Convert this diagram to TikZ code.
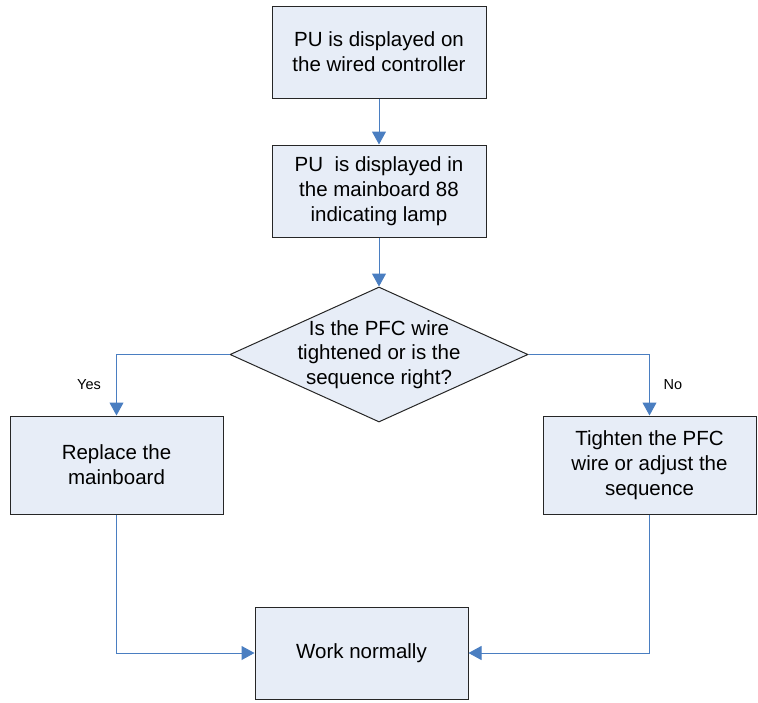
\documentclass[tikz,border=0pt]{standalone}
\usepackage{fontspec}
\setmainfont{Liberation Sans}
\usetikzlibrary{shapes.geometric,arrows.meta,positioning}

\definecolor{boxfill}{RGB}{231,237,247}
\definecolor{flowblue}{RGB}{74,126,193}

\begin{document}
\begin{tikzpicture}[x=1pt,y=-1pt,
    box/.style={draw=black!85,line width=1pt,fill=boxfill,minimum width=214pt,minimum height=92pt,
        inner sep=0pt,align=center,font=\fontsize{20.5}{25}\selectfont},
    decision/.style={draw=black!85,line width=1pt,fill=boxfill,diamond,minimum width=298pt,
        minimum height=135pt,inner sep=0pt},
    flow/.style={draw=flowblue,line width=1pt,-{Triangle[width=14pt,length=13pt]}},
    lbl/.style={font=\fontsize{14.5}{17}\selectfont}]
    \useasboundingbox (0,0) rectangle (758,702);

    % Steps
    \node[box] (wired) at (379,52) {PU is displayed on\\the wired controller};
    \node[box] (lamp) at (379,191) {PU\ \ is displayed in\\the mainboard 88\\indicating lamp};
    \node[decision,label={[align=center,font=\fontsize{20.5}{24.5}\selectfont]center:Is the PFC wire\\tightened or is the\\sequence right?}] (pfc) at (379,354.5) {};
    \node[box,minimum width=213pt,minimum height=98pt] (replace) at (116.5,465) {Replace the\\mainboard};
    \node[box,minimum width=213pt,minimum height=98pt] (tighten) at (649.5,465) {Tighten the PFC\\wire or adjust the\\sequence};
    \node[box,minimum width=213pt] (normal) at (361.5,653) {Work normally};

    % Yes / No
    \node[lbl] (yes) at (89,385) {Yes};
    \node[lbl] (no) at (673,385) {No};

    % Connectors
    \draw[flow] (wired) -- (lamp);
    \draw[flow] (lamp) -- (pfc);
    \draw[flow] (pfc.west) -| (replace.north);
    \draw[flow] (pfc.east) -| (tighten.north);
    \draw[flow] (replace.south) |- (normal.west);
    \draw[flow] (tighten.south) |- (normal.east);
\end{tikzpicture}
\end{document}
